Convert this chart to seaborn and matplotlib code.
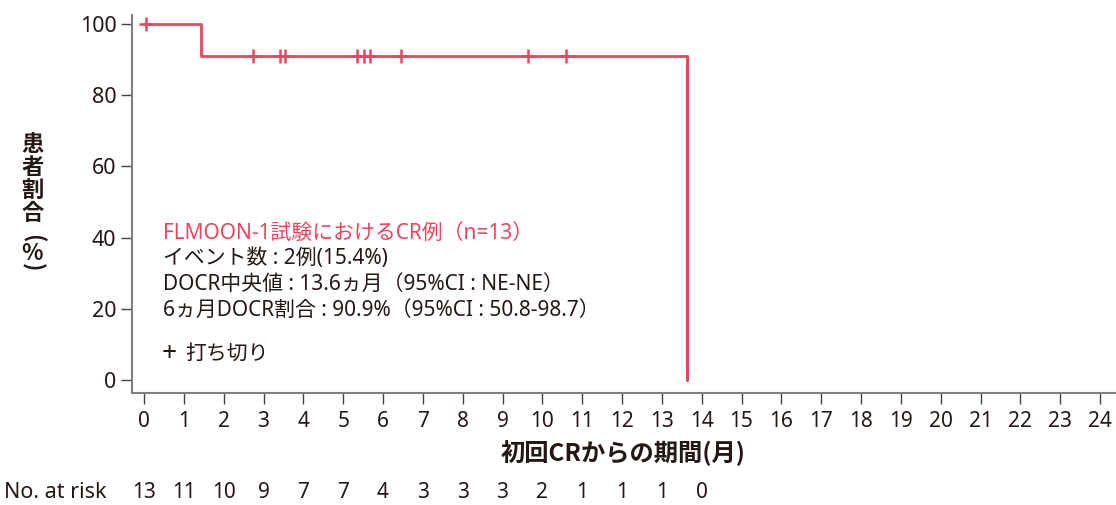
import numpy as np
import pandas as pd
import matplotlib
matplotlib.use("Agg")
import matplotlib.pyplot as plt
import matplotlib.transforms as mtransforms
import seaborn as sns

# 生存曲線データ
step_times = [0, 1.43, 13.62, 13.62]
step_surv = [100, 90.9, 90.9, 0]
censor_times = [0.05, 2.74, 3.42, 3.54, 5.35, 5.53, 5.68, 6.46, 9.65, 10.6]
censor_surv = [100, 90.9, 90.9, 90.9, 90.9, 90.9, 90.9, 90.9, 90.9, 90.9]

# No. at risk
risk_months = list(range(0, 15))
risk_counts = [13, 11, 10, 9, 7, 7, 4, 3, 3, 3, 2, 1, 1, 1, 0]

x_ticks = list(range(0, 25))
y_ticks = [0, 20, 40, 60, 80, 100]

info_title = "FLMOON-1試験におけるCR例（n=13）"
info_lines = [
    "イベント数 : 2例(15.4%)",
    "DOCR中央値 : 13.6ヵ月（95%CI : NE-NE）",
    "6ヵ月DOCR割合 : 90.9%（95%CI : 50.8-98.7）",
]

RED = "#E9455E"
TEXT = "#231815"

sns.set_theme(style="white")
plt.rcParams["font.family"] = ["Noto Sans", "Noto Sans CJK JP", "DejaVu Sans"]

fig = plt.figure(figsize=(11.16, 5.05), dpi=100)
ax = fig.add_axes([0.118, 0.222, 0.882, 0.748])

curve = pd.DataFrame({"t": step_times, "s": step_surv})
sns.lineplot(data=curve, x="t", y="s", drawstyle="steps-post", estimator=None,
             color=RED, linewidth=2.0, ax=ax)
cens = pd.DataFrame({"t": censor_times, "s": censor_surv})
sns.scatterplot(data=cens, x="t", y="s", marker="+", s=90, linewidth=1.8,
                color=RED, ax=ax, zorder=3)

ax.set_xlim(-0.31, 24.4)
ax.set_ylim(-3.6, 102.5)
ax.set_xticks(x_ticks)
ax.set_yticks(y_ticks)
ax.tick_params(axis="both", direction="out", length=8, width=1, color="#444444",
               labelcolor=TEXT, bottom=True, left=True)
ax.tick_params(axis="y", labelsize=15.5, pad=3)
ax.tick_params(axis="x", labelsize=15, pad=5)
for side in ["top", "right"]:
    ax.spines[side].set_visible(False)
for side in ["left", "bottom"]:
    ax.spines[side].set_color("#808080")
    ax.spines[side].set_linewidth(1.5)
ax.set_xlabel("")
ax.set_ylabel("")

# 軸ラベル
cjk = ["Noto Sans CJK JP", "DejaVu Sans"]
fig.text(0.5585, 0.103, "初回CRからの期間(月)", ha="center", va="center",
         fontsize=17.5, fontweight="bold", color=TEXT, family=cjk)
fig.text(0.029, 1 - 179 / 505, "患\n者\n割\n合", ha="center", va="center",
         fontsize=16, fontweight="bold", color=TEXT, linespacing=1.0, family=cjk)
fig.text(0.029, 1 - 238 / 505, "(", ha="center", va="center", rotation=-90,
         fontsize=16, fontweight="bold", color=TEXT, family=cjk)
fig.text(0.029, 1 - 253 / 505, "%", ha="center", va="center",
         fontsize=16, fontweight="bold", color=TEXT, family=cjk)
fig.text(0.029, 1 - 267 / 505, ")", ha="center", va="center", rotation=-90,
         fontsize=16, fontweight="bold", color=TEXT, family=cjk)

# 注記
ax.text(0.47, 41.2, info_title, fontsize=15, color=RED, va="center")
for i, line in enumerate(info_lines):
    ax.text(0.47, 34.2 - i * 7.3, line, fontsize=15, color=TEXT, va="center")
ax.text(0.44, 7.3, "+", fontsize=19, fontweight="bold", color=TEXT, va="center")
ax.text(1.03, 7.3, "打ち切り", fontsize=15, color=TEXT, va="center")

# No. at risk
trans = mtransforms.blended_transform_factory(ax.transData, fig.transFigure)
fig.text(0.004, 0.024, "No. at risk", fontsize=15.5, color=TEXT, va="center")
for m, n in zip(risk_months, risk_counts):
    ax.text(m, 0.024, str(n), transform=trans, ha="center", va="center",
            fontsize=15, color=TEXT, clip_on=False)

fig.savefig("out.png", dpi=100)
